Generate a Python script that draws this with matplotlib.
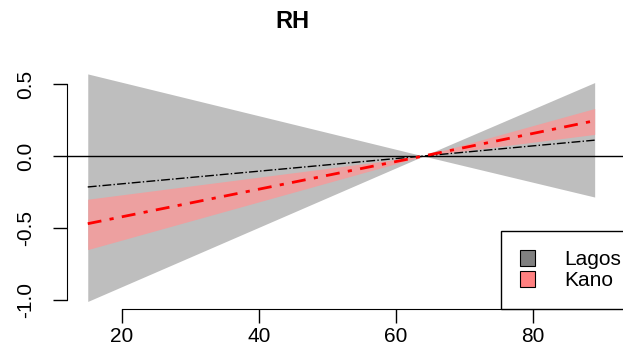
import matplotlib
matplotlib.use("Agg")
import matplotlib.pyplot as plt
from matplotlib.patches import Patch

plt.rcParams['font.family'] = ['Liberation Sans', 'DejaVu Sans']

# RH effect, fitted line and confidence band per city
rh = [15, 64, 89]
lagos_fit = [-0.215, 0.0, 0.11]
lagos_lo = [-1.01, 0.0, -0.285]
lagos_hi = [0.57, 0.0, 0.51]
kano_fit = [-0.47, 0.0, 0.245]
kano_lo = [-0.65, 0.0, 0.15]
kano_hi = [-0.30, 0.0, 0.33]

xticks = [20, 40, 60, 80]
yticks = [-1.0, -0.5, 0.0, 0.5]

fig = plt.figure(figsize=(6.23, 3.6), dpi=100)
# plot region runs past the right edge of the picture (cropped R plot)
ax = fig.add_axes([67 / 623, 1 - 309 / 360, (640 - 67) / 623, (309 - 65) / 360])

ax.fill_between(rh, lagos_lo, lagos_hi, color='#bebebe', lw=0, zorder=1)
ax.fill_between(rh, kano_lo, kano_hi, color='#eda0a0', lw=0, zorder=2)
ax.axhline(0, color='black', lw=1, zorder=3)
ax.plot(rh, lagos_fit, color='black', lw=1, ls='-.', zorder=4)
ax.plot(rh, kano_fit, color='red', lw=2, ls='-.', dashes=(5, 3, 1.5, 3), zorder=5)

ax.set_xlim(11.97, 11.97 + (640 - 67) / 6.85)
ax.set_ylim(-1.0625, 0.632)

for s in ['top', 'right']:
    ax.spines[s].set_visible(False)
ax.spines['left'].set_bounds(-1.0, 0.5)
ax.spines['bottom'].set_bounds(20, 80)
ax.set_xticks(xticks)
ax.set_yticks(yticks)
ax.set_yticklabels(['-1.0', '-0.5', '0.0', '0.5'], rotation=90, va='center')
ax.tick_params(axis='both', direction='out', length=10, width=1, labelsize=15)
ax.tick_params(axis='x', pad=3)
ax.tick_params(axis='y', pad=13)

handles = [Patch(facecolor='#808080', edgecolor='black', lw=0.8),
           Patch(facecolor='#ff8080', edgecolor='black', lw=0.8)]
leg = ax.legend(handles, ['Lagos', 'Kano'], loc='lower right', borderaxespad=0,
                fontsize=15, frameon=True, fancybox=False, handlelength=0.75,
                handleheight=0.75, handletextpad=1.4, borderpad=0.9,
                labelspacing=0.1)
leg.get_frame().set_edgecolor('black')
leg.get_frame().set_linewidth(1)
leg.get_frame().set_alpha(1)

fig.text(292 / 623, 1 - 22 / 360, 'RH', ha='center', va='center',
         fontsize=17, fontweight='bold')

fig.savefig('out.png', dpi=100)
